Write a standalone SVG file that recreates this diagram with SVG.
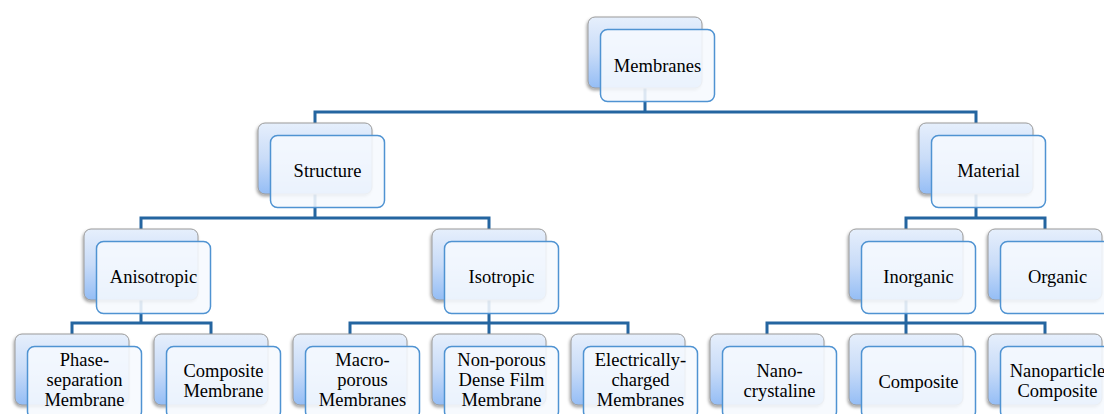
<svg xmlns="http://www.w3.org/2000/svg" width="1104" height="414" viewBox="0 0 1104 414">
<defs>
<linearGradient id="bg" x1="0" y1="0" x2="0" y2="1">
<stop offset="0" stop-color="#e6effc"/>
<stop offset="0.5" stop-color="#c9dcf8"/>
<stop offset="1" stop-color="#94bdf5"/>
</linearGradient>
<filter id="sh" x="-10%" y="-10%" width="130%" height="130%">
<feDropShadow dx="-1" dy="2" stdDeviation="1.5" flood-color="#000" flood-opacity="0.35"/>
</filter>
</defs>
<style>
.back{fill:url(#bg);stroke:#9a9a9a;stroke-width:1;filter:url(#sh)}
.front{fill:#f6f9fe;fill-opacity:0.88;stroke:#4f93d2;stroke-width:1.5}
.conn{fill:none;stroke:#2465a0;stroke-width:3}
text{font-family:"Liberation Serif","Times New Roman",serif;font-size:18.5px;fill:#000;text-anchor:middle}
</style>
<rect width="1104" height="414" fill="#fff"/>
<g id="connectors">
<path class="conn" d="M645 88V112M315 123V112H976V123"/>
<path class="conn" d="M315 194V218M141 229V218H489V229"/>
<path class="conn" d="M976 194V218M906 229V218H1045V229"/>
<path class="conn" d="M141 300V323M72 334V323H211V334"/>
<path class="conn" d="M489 300V323M350 334V323H628V334M489 323V334"/>
<path class="conn" d="M906 300V323M767 334V323H1045V334M906 323V334"/>
</g>
<g id="membranes">
<rect class="back" x="588" y="17" width="114" height="71" rx="7"/>
<rect class="front" x="600.5" y="29.5" width="114" height="72" rx="7"/>
<text x="657.5" y="72">Membranes</text>
</g>
<g id="structure">
<rect class="back" x="258" y="123" width="114" height="71" rx="7"/>
<rect class="front" x="270.5" y="135.5" width="114" height="72" rx="7"/>
<text x="327.5" y="177">Structure</text>
</g>
<g id="material">
<rect class="back" x="919" y="123" width="114" height="71" rx="7"/>
<rect class="front" x="931.5" y="135.5" width="114" height="72" rx="7"/>
<text x="988.5" y="177">Material</text>
</g>
<g id="anisotropic">
<rect class="back" x="84" y="229" width="114" height="71" rx="7"/>
<rect class="front" x="96.5" y="241.5" width="114" height="72" rx="7"/>
<text x="153.5" y="283">Anisotropic</text>
</g>
<g id="isotropic">
<rect class="back" x="432" y="229" width="114" height="71" rx="7"/>
<rect class="front" x="444.5" y="241.5" width="114" height="72" rx="7"/>
<text x="501.5" y="283">Isotropic</text>
</g>
<g id="inorganic">
<rect class="back" x="849" y="229" width="114" height="71" rx="7"/>
<rect class="front" x="861.5" y="241.5" width="114" height="72" rx="7"/>
<text x="918.5" y="283">Inorganic</text>
</g>
<g id="organic">
<rect class="back" x="988" y="229" width="114" height="71" rx="7"/>
<rect class="front" x="1000.5" y="241.5" width="114" height="72" rx="7"/>
<text x="1057.5" y="283">Organic</text>
</g>
<g id="phase-separation">
<rect class="back" x="15" y="334" width="114" height="71" rx="7"/>
<rect class="front" x="27.5" y="346.5" width="114" height="72" rx="7"/>
<text x="84.5" y="366">Phase-</text>
<text x="84.5" y="386">separation</text>
<text x="84.5" y="406">Membrane</text>
</g>
<g id="composite-membrane">
<rect class="back" x="154" y="334" width="114" height="71" rx="7"/>
<rect class="front" x="166.5" y="346.5" width="114" height="72" rx="7"/>
<text x="223.5" y="377">Composite</text>
<text x="223.5" y="397">Membrane</text>
</g>
<g id="macroporous">
<rect class="back" x="293" y="334" width="114" height="71" rx="7"/>
<rect class="front" x="305.5" y="346.5" width="114" height="72" rx="7"/>
<text x="362.5" y="366">Macro-</text>
<text x="362.5" y="386">porous</text>
<text x="362.5" y="406">Membranes</text>
</g>
<g id="nonporous">
<rect class="back" x="432" y="334" width="114" height="71" rx="7"/>
<rect class="front" x="444.5" y="346.5" width="114" height="72" rx="7"/>
<text x="501.5" y="366">Non-porous</text>
<text x="501.5" y="386">Dense Film</text>
<text x="501.5" y="406">Membrane</text>
</g>
<g id="electrically-charged">
<rect class="back" x="571" y="334" width="114" height="71" rx="7"/>
<rect class="front" x="583.5" y="346.5" width="114" height="72" rx="7"/>
<text x="640.5" y="366">Electrically-</text>
<text x="640.5" y="386">charged</text>
<text x="640.5" y="406">Membranes</text>
</g>
<g id="nanocrystaline">
<rect class="back" x="710" y="334" width="114" height="71" rx="7"/>
<rect class="front" x="722.5" y="346.5" width="114" height="72" rx="7"/>
<text x="779.5" y="377">Nano-</text>
<text x="779.5" y="397">crystaline</text>
</g>
<g id="composite">
<rect class="back" x="849" y="334" width="114" height="71" rx="7"/>
<rect class="front" x="861.5" y="346.5" width="114" height="72" rx="7"/>
<text x="918.5" y="388">Composite</text>
</g>
<g id="nanoparticle-composite">
<rect class="back" x="988" y="334" width="114" height="71" rx="7"/>
<rect class="front" x="1000.5" y="346.5" width="114" height="72" rx="7"/>
<text x="1057.5" y="377">Nanoparticle</text>
<text x="1057.5" y="397">Composite</text>
</g>
</svg>
